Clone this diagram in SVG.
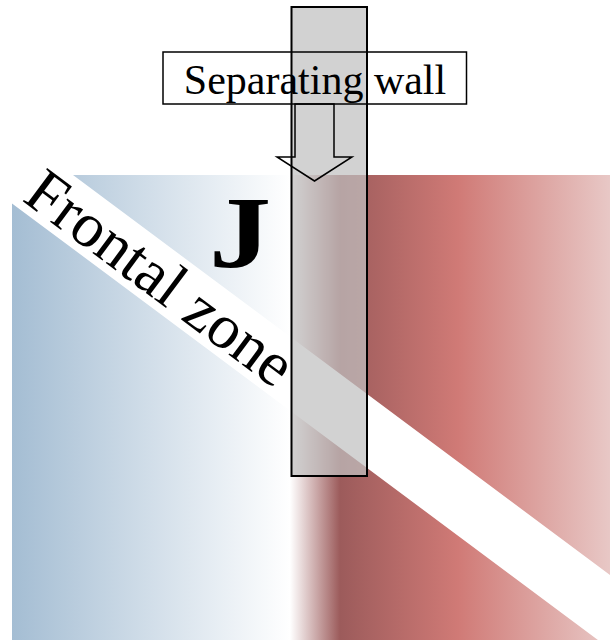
<svg xmlns="http://www.w3.org/2000/svg" width="610" height="640" viewBox="0 0 610 640">
  <style>
    .serif { font-family: "Liberation Serif", "Times New Roman", serif; fill: #000; }
    .outline { stroke: #000; stroke-width: 1.5; fill: none; }
  </style>
  <defs>
    <linearGradient id="cold" gradientUnits="userSpaceOnUse" x1="12" y1="0" x2="290" y2="0">
      <stop offset="0" stop-color="#a4bdd3"/>
      <stop offset="1" stop-color="#ffffff"/>
    </linearGradient>
    <linearGradient id="warm" gradientUnits="userSpaceOnUse" x1="290" y1="0" x2="610" y2="0">
      <stop offset="0" stop-color="#ffffff"/>
      <stop offset="0.156" stop-color="#9c5b5b"/>
      <stop offset="0.525" stop-color="#d07a76"/>
      <stop offset="1" stop-color="#e8c8c6"/>
    </linearGradient>
  </defs>
  <rect width="610" height="640" fill="#fff"/>

  <g id="cold-air">
    <rect x="12" y="175" width="278" height="465" fill="url(#cold)"/>
  </g>
  <g id="warm-air">
    <rect x="290" y="175" width="320" height="465" fill="url(#warm)"/>
  </g>

  <g id="frontal-zone">
    <polygon points="12,129.4 73,175 610,575 610,649 12,203.4" fill="#fff"/>
    <text class="serif" font-size="63" transform="translate(21,200) rotate(36.7)">Frontal zone</text>
  </g>

  <g id="jet">
    <text class="serif" font-size="102" font-weight="bold" transform="translate(209,267) scale(1.22,1)">J</text>
  </g>

  <g id="wall">
    <rect x="291.5" y="7" width="75.5" height="469" fill="#c0c0c0" fill-opacity="0.72" stroke="#000" stroke-width="2"/>
  </g>

  <g id="label">
    <rect x="163" y="52" width="303.5" height="52" class="outline"/>
    <text class="serif" font-size="42" x="315" y="94" text-anchor="middle">Separating wall</text>
  </g>

  <g id="connectors">
    <polygon points="295,104 334,104 334,157 352,157 314.5,181 277,157 295,157" class="outline" stroke-linejoin="miter"/>
  </g>
</svg>
